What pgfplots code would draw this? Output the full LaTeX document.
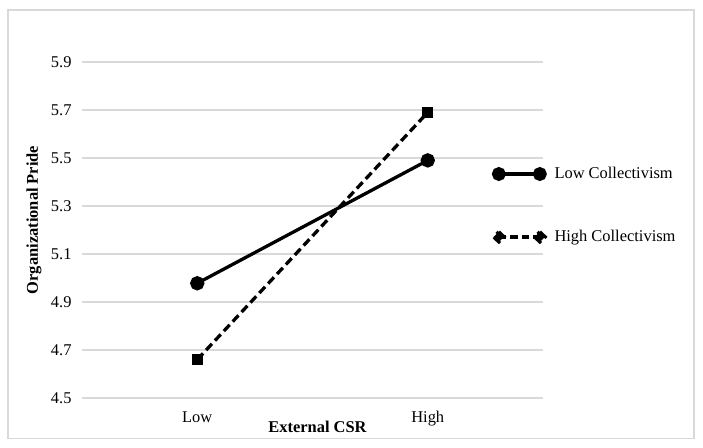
\documentclass[border=0pt]{standalone}
\usepackage{pgfplots}
\pgfplotsset{compat=1.18}
\usepackage{fontspec}
\setmainfont{Liberation Serif}
\definecolor{gridgray}{RGB}{217,217,217}
\begin{document}
\begin{tikzpicture}[x=1bp,y=1bp]
\useasboundingbox (0,0) rectangle (703,448);
\draw[color=gridgray, line width=1.2bp] (8,9.5) rectangle (694,438);
\begin{axis}[
  at={(82bp,50bp)}, anchor=south west,
  scale only axis, width=461bp, height=336bp,
  xmin=0, xmax=2, ymin=4.5, ymax=5.9,
  xtick={0.5,1.5}, xticklabels={Low,High},
  ytick={4.5,4.7,4.9,5.1,5.3,5.5,5.7,5.9},
  /pgf/number format/assume math mode=true,
  yticklabel style={/pgf/number format/fixed, /pgf/number format/fixed zerofill, /pgf/number format/precision=1, xshift=-7bp},
  xticklabel style={yshift=-10bp},
  axis line style={draw=none},
  major tick length=0pt,
  ymajorgrids,
  grid style={color=gridgray, line width=1.2bp},
  clip=false,
  font=\fontsize{16.5}{19}\selectfont,
  xlabel={\textbf{External CSR}},
  ylabel={\textbf{Organizational Pride}},
  xlabel style={at={(axis description cs:0.511,-0.086)}, anchor=center},
  ylabel style={at={(axis description cs:-0.104,0.53)}, anchor=center},
  legend style={at={(axis description cs:0.8887,0.573)}, anchor=west,
    draw=none, fill=none, inner sep=0pt, row sep=46bp,
    font=\fontsize{16.5}{19}\selectfont,
    nodes={inner sep=2bp, anchor=west}},
  legend cell align=left,
]
\addplot[black, line width=3.3bp, mark=*, mark size=5.5bp,
  legend image code/.code={
    \draw[black, line width=3.3bp] (0bp,0bp) -- (41bp,0bp);
    \fill[black] (0bp,0bp) circle (5.3bp);
    \fill[black] (41bp,0bp) circle (5.3bp);
    \path (52bp,0bp);
  }]
  coordinates {(0.5,4.978) (1.5,5.49)};
\addlegendentry{Low Collectivism}
\addplot[black, line width=3.3bp, dash pattern=on 8.5bp off 4.5bp,
  mark=square*, mark size=3.8bp, mark options={solid},
  legend image code/.code={
    \draw[black, line width=3.3bp, dash pattern=on 7.5bp off 4bp] (0bp,0bp) -- (41bp,0bp);
    \fill[black] (0bp,5bp) -- (5.3bp,0bp) -- (0bp,-5bp) -- (-5.3bp,0bp) -- cycle;
    \fill[black] (41bp,5bp) -- (46.3bp,0bp) -- (41bp,-5bp) -- (35.7bp,0bp) -- cycle;
    \path (52bp,0bp);
  }]
  coordinates {(0.5,4.66) (1.5,5.69)};
\addlegendentry{High Collectivism}
\end{axis}
\end{tikzpicture}
\end{document}
